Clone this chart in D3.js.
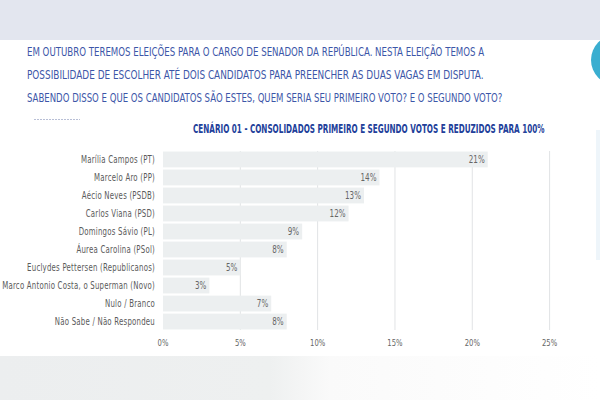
<!DOCTYPE html>
<html>
<head>
<meta charset="utf-8">
<script src="https://cdn.jsdelivr.net/npm/d3@7"></script>
<style>
  body { margin: 0; background: #fff; }
  svg { display: block; }
</style>
</head>
<body>
<div id="chart"></div>
<script>
// data
const categories = [
  'Marília Campos (PT)',
  'Marcelo Aro (PP)',
  'Aécio Neves (PSDB)',
  'Carlos Viana (PSD)',
  'Domingos Sávio (PL)',
  'Áurea Carolina (PSol)',
  'Euclydes Pettersen (Republicanos)',
  'Marco Antonio Costa, o Superman (Novo)',
  'Nulo / Branco',
  'Não Sabe / Não Respondeu'
]
const values = [21, 14, 13, 12, 9, 8, 5, 3, 7, 8]
const ticks = [0, 5, 10, 15, 20, 25]
const questionLines = [
  'EM OUTUBRO TEREMOS ELEIÇÕES PARA O CARGO DE SENADOR DA REPÚBLICA. NESTA ELEIÇÃO TEMOS A',
  'POSSIBILIDADE DE ESCOLHER ATÉ DOIS CANDIDATOS PARA PREENCHER AS DUAS VAGAS EM DISPUTA.',
  'SABENDO DISSO E QUE OS CANDIDATOS SÃO ESTES, QUEM SERIA SEU PRIMEIRO VOTO? E O SEGUNDO VOTO?'
]
const chartTitle = 'CENÁRIO 01 - CONSOLIDADOS PRIMEIRO E SEGUNDO VOTOS E REDUZIDOS PARA 100%'

const W = 600, H = 400
const narrow = "'DejaVu Sans Condensed', 'Liberation Sans Narrow', sans-serif"
const labelK = 0.74   // the slide uses a very narrow font
const numK = 0.8

const svg = d3.select('#chart').append('svg')
  .attr('width', W)
  .attr('height', H)

// background bands (slide look)
const defs = svg.append('defs')
const grad = defs.append('linearGradient').attr('id', 'bottomGrad')
  .attr('x1', 0).attr('x2', 1).attr('y1', 0).attr('y2', 0)
grad.append('stop').attr('offset', '0%').attr('stop-color', '#eceeef')
grad.append('stop').attr('offset', '45%').attr('stop-color', '#eef0f0')
grad.append('stop').attr('offset', '55%').attr('stop-color', '#fafafa')
grad.append('stop').attr('offset', '100%').attr('stop-color', '#ffffff')

svg.append('circle')
  .attr('cx', 616).attr('cy', 60).attr('r', 25)
  .attr('fill', '#3aaed0')
svg.append('rect')
  .attr('x', 0).attr('y', 0).attr('width', W).attr('height', 40)
  .attr('fill', '#e3e6ef')
svg.append('rect')
  .attr('x', 0).attr('y', 356).attr('width', W).attr('height', 44)
  .attr('fill', 'url(#bottomGrad)')
svg.append('rect')
  .attr('x', 596).attr('y', 130).attr('width', 4).attr('height', 130)
  .attr('fill', '#eef5fa')

// question text, each line scaled to the width it has in the slide
const lineRight = [485, 484, 503]
svg.append('g').selectAll('g')
  .data(questionLines)
  .enter().append('g')
  .each(function (d, i) {
    const grp = d3.select(this)
    const t = grp.append('text')
      .attr('x', 0).attr('y', 0)
      .attr('font-family', narrow)
      .attr('font-size', 12.5)
      .attr('fill', '#3c56a8')
      .text(d)
    const k = (lineRight[i] - 27) / t.node().getComputedTextLength()
    grp.attr('transform', `translate(27,${56 + i * 23}) scale(${k},1)`)
  })

// little dashed rule
svg.append('line')
  .attr('x1', 34).attr('x2', 80)
  .attr('y1', 119.5).attr('y2', 119.5)
  .attr('stroke', '#b8bfd6')
  .attr('stroke-dasharray', '2,1')

// chart title
const titleG = svg.append('g')
const tt = titleG.append('text')
  .attr('x', 0).attr('y', 0)
  .attr('font-family', narrow)
  .attr('font-weight', 'bold')
  .attr('font-size', 12)
  .attr('fill', '#22409a')
  .text(chartTitle)
titleG.attr('transform', `translate(193,133) scale(${352 / tt.node().getComputedTextLength()},1)`)

// scales
const x = d3.scaleLinear().domain([0, 25]).range([163, 549.6])
const y = d3.scaleBand().domain(categories).range([151, 330]).paddingInner(0.12).paddingOuter(0.03)

const g = svg.append('g')

// gridlines
g.selectAll('.grid')
  .data(ticks.slice(1))
  .enter().append('line')
  .attr('class', 'grid')
  .attr('x1', d => x(d)).attr('x2', d => x(d))
  .attr('y1', 151).attr('y2', 330)
  .attr('stroke', '#e1e3e5')
  .attr('stroke-width', 1)

// bars
g.selectAll('.bar')
  .data(values)
  .enter().append('rect')
  .attr('class', 'bar')
  .attr('x', x(0))
  .attr('y', (d, i) => y(categories[i]))
  .attr('width', d => x(d) - x(0))
  .attr('height', y.bandwidth())
  .attr('fill', '#eceff0')

// value labels
g.selectAll('.val')
  .data(values)
  .enter().append('text')
  .attr('class', 'val')
  .attr('transform', (d, i) => `translate(${x(d) - 3},${y(categories[i]) + y.bandwidth() / 2}) scale(${numK},1)`)
  .attr('dy', '0.35em')
  .attr('text-anchor', 'end')
  .attr('font-family', narrow)
  .attr('font-size', 10)
  .attr('fill', '#666')
  .text(d => d + '%')

// category axis
const yAxis = g.append('g')
  .attr('transform', `translate(${x(0) - 2},0)`)
  .call(d3.axisLeft(y).tickSize(0).tickPadding(6))
yAxis.select('.domain').remove()
yAxis.selectAll('text')
  .attr('x', -6 / labelK)
  .attr('transform', `scale(${labelK},1)`)
  .attr('font-family', narrow)
  .attr('font-size', 10.5)
  .attr('fill', '#5a5a5a')
  .style('letter-spacing', '0.3px')

// value axis
const xAxis = g.append('g')
  .attr('transform', 'translate(0,336)')
  .call(d3.axisBottom(x).tickValues(ticks).tickSize(0).tickFormat(d => d + '%'))
xAxis.select('.domain').remove()
xAxis.selectAll('text')
  .attr('transform', `scale(${numK},1)`)
  .attr('x', 0)
xAxis.selectAll('.tick')
  .attr('transform', d => `translate(${x(d)},0)`)
xAxis.selectAll('text')
  .attr('font-family', narrow)
  .attr('font-size', 9.5)
  .attr('fill', '#666')
</script>
</body>
</html>
